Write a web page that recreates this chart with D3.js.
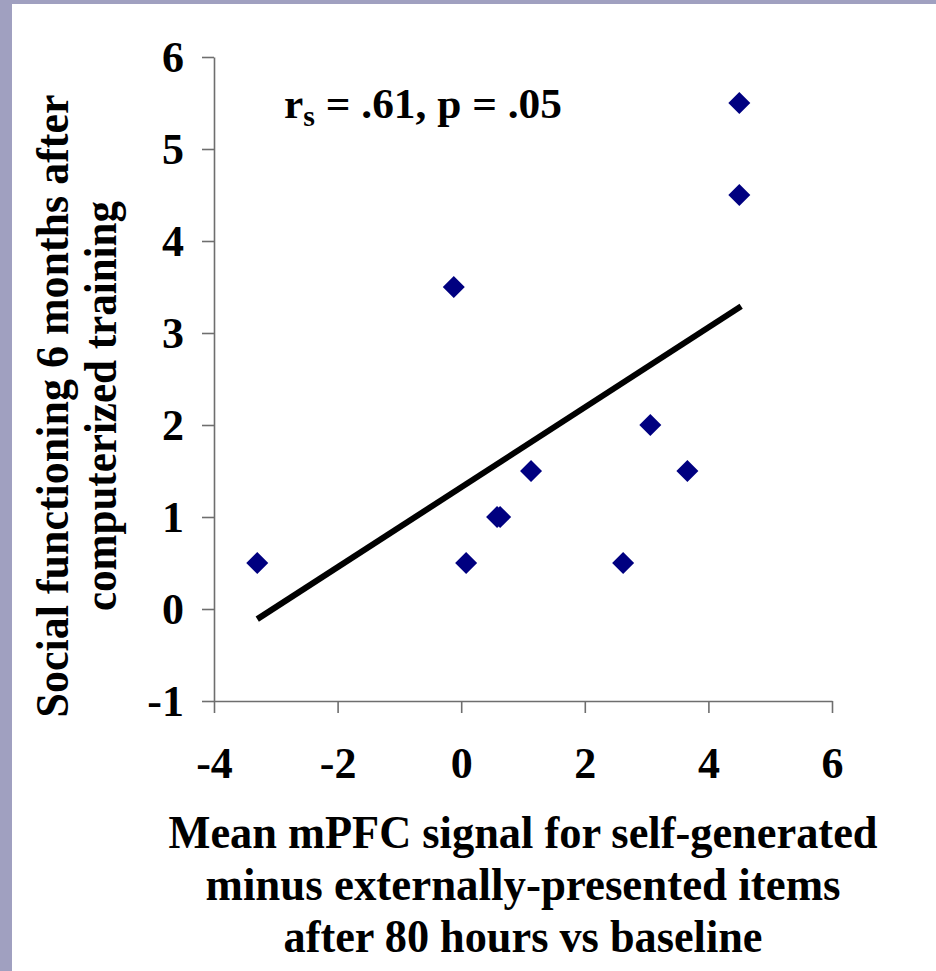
<!DOCTYPE html>
<html>
<head>
<meta charset="utf-8">
<script src="https://cdn.jsdelivr.net/npm/d3@7"></script>
<style>
  html, body { margin: 0; padding: 0; background: #ffffff; }
  svg { display: block; }
</style>
</head>
<body>
<svg id="chart" width="936" height="971"></svg>
<script>
// ---- data ----
const xValues = [-3.3, -0.12, 0.08, 0.58, 0.63, 1.13, 2.62, 3.06, 3.66, 4.5, 4.5];
const yValues = [0.5, 3.5, 0.5, 1.0, 1.0, 1.5, 0.5, 2.0, 1.5, 5.5, 4.5];
const trendX = [-3.3, 4.53];
const trendY = [-0.11, 3.29];
const xTicks = [-4, -2, 0, 2, 4, 6];
const yTicks = [-1, 0, 1, 2, 3, 4, 5, 6];
const xTitle = ["Mean mPFC signal for self-generated", "minus externally-presented items", "after 80 hours vs baseline"];
const yTitle = ["Social functioning 6 months after", "computerized training"];
const statLabel = { r: "r", sub: "s", rest: " = .61, p = .05" };

// ---- layout ----
const FONT = "'Liberation Serif', 'Times New Roman', Tinos, 'DejaVu Serif', serif";
const W = 936, H = 971;
const svg = d3.select("#chart").attr("font-family", FONT).attr("font-weight", "bold");

// lavender frame (top and left)
svg.append("rect").attr("x", 0).attr("y", 0).attr("width", W).attr("height", H).attr("fill", "#a0a0c0");
svg.append("rect").attr("x", 12).attr("y", 4).attr("width", W - 12).attr("height", H - 4).attr("fill", "#ffffff");

const x = d3.scaleLinear().domain([-4, 6]).range([214, 832]);
const y = d3.scaleLinear().domain([-1, 6]).range([701, 57]);

const axisColor = "#6e6e6e";
const fmt = d => d < 0 ? "-" + Math.abs(d) : String(d);

// y axis
const gy = svg.append("g").attr("transform", `translate(${x(-4)},0)`)
  .call(d3.axisLeft(y).tickValues(yTicks).tickFormat(fmt).tickSize(12).tickSizeOuter(0).tickPadding(18));
gy.attr("font-family", FONT).attr("font-size", 44).attr("font-weight", "bold");
gy.select(".domain").attr("stroke", axisColor).attr("stroke-width", 1.6);
gy.selectAll(".tick line").attr("stroke", axisColor).attr("stroke-width", 1.6);
gy.selectAll(".tick text").attr("dy", "0.34em").attr("fill", "#000");

// x axis
const gx = svg.append("g").attr("transform", `translate(0,${y(-1)})`)
  .call(d3.axisBottom(x).tickValues(xTicks).tickFormat(fmt).tickSize(12).tickSizeOuter(0).tickPadding(34));
gx.attr("font-family", FONT).attr("font-size", 44).attr("font-weight", "bold");
gx.select(".domain").attr("stroke", axisColor).attr("stroke-width", 1.6);
gx.selectAll(".tick line").attr("stroke", axisColor).attr("stroke-width", 1.6);
gx.selectAll(".tick text").attr("fill", "#000");

// trend line
const trend = trendX.map((v, i) => ({ x: v, y: trendY[i] }));
svg.append("path")
  .datum(trend)
  .attr("d", d3.line().x(d => x(d.x)).y(d => y(d.y)))
  .attr("stroke", "#000").attr("stroke-width", 6).attr("fill", "none");

// diamonds
const pts = xValues.map((v, i) => ({ x: v, y: yValues[i] }));
const diamond = d3.symbol().type(d3.symbolSquare).size(242);
svg.append("g").selectAll("path").data(pts).join("path")
  .attr("d", diamond)
  .attr("transform", d => `translate(${x(d.x)},${y(d.y)}) rotate(45)`)
  .attr("fill", "#000080");

// stat annotation
const st = svg.append("text").attr("x", 284).attr("y", 118).attr("font-size", 42)
  .attr("textLength", 278).attr("lengthAdjust", "spacingAndGlyphs");
st.append("tspan").text(statLabel.r);
st.append("tspan").attr("font-size", 29).attr("dy", 8).text(statLabel.sub);
st.append("tspan").attr("dy", -8).text(statLabel.rest);

// x title
const xc = (x(-4) + x(6)) / 2;
const xWidths = [709, 635, 479];
xTitle.forEach((t, i) => {
  svg.append("text").attr("x", xc).attr("y", 848 + i * 52).attr("text-anchor", "middle")
    .attr("font-size", 47)
    .attr("textLength", xWidths[i]).attr("lengthAdjust", "spacingAndGlyphs")
    .text(t);
});

// y title
const yc = 406;
const yWidths = [623, 410];
yTitle.forEach((t, i) => {
  svg.append("text").attr("transform", `translate(${68 + i * 48},${yc}) rotate(-90)`)
    .attr("text-anchor", "middle").attr("font-size", 47)
    .attr("textLength", yWidths[i]).attr("lengthAdjust", "spacingAndGlyphs")
    .text(t);
});
</script>
</body>
</html>
